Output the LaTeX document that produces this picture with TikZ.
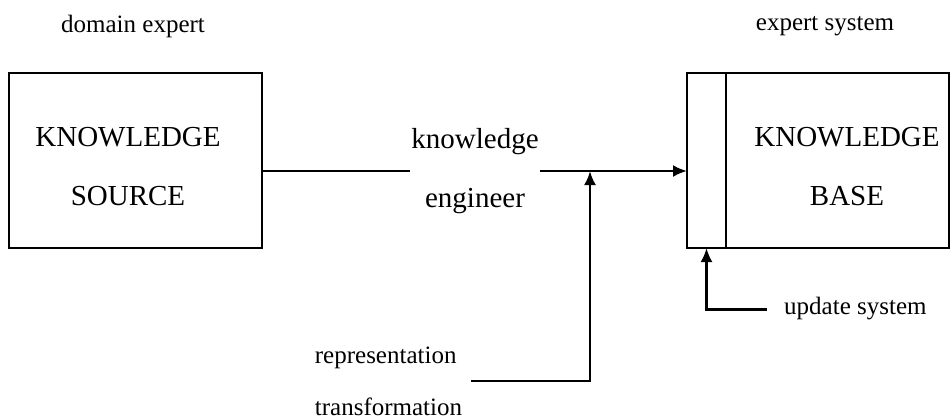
\documentclass[tikz,border=0pt]{standalone}
\usepackage{fontspec}
\setmainfont{Liberation Serif}
\usetikzlibrary{arrows.meta,positioning}
\begin{document}
\begin{tikzpicture}[x=0.5pt,y=-0.5pt,line width=1.2pt,>={Latex[length=7pt,width=6pt]},
  frame/.style={draw,inner sep=0pt,outer sep=0pt,minimum height=87.5pt},
  bigtext/.style={inner sep=0pt,align=center,font=\fontsize{14.5}{29.5}\selectfont},
  smalltext/.style={inner sep=0pt,font=\fontsize{12.5}{26}\selectfont}]
  \useasboundingbox (0,0) rectangle (952,419);
  % boxes
  \node[frame,minimum width=126.5pt] (src) at (135.5,160.5) {};
  \node[frame,minimum width=19.5pt] (strip) at (706.5,160.5) {};
  \node[frame,minimum width=111.5pt,right=0pt of strip] (kb) {};
  \node[bigtext] (srctext) at (128,166.5) {KNOWLEDGE\\SOURCE};
  \node[bigtext] (kbtext) at (847,166.5) {KNOWLEDGE\\BASE};
  % labels
  \foreach \nm/\x/\txt in {dom/133/domain expert, sys/825/expert system}
    \node[smalltext] (\nm) at (\x,26) {\txt};
  \node[bigtext,minimum width=57pt] (ke) at (475,171) {knowledge\\engineer};
  \node[smalltext,align=left,inner xsep=4pt] (rt) at (388.5,381) {representation\\transformation};
  \node[smalltext,inner xsep=8pt,anchor=mid west] (upd) at (767,309.5) {update system};
  \coordinate (join) at (590,171);
  % connectors
  \draw (ke.west -| src.east) -- (ke.west);
  \draw[->] (ke.east) -- (ke.east -| strip.west);
  \draw[->] (rt.east) -| (join);
  \draw[->] (upd.mid west) -| (strip.south);
\end{tikzpicture}
\end{document}
